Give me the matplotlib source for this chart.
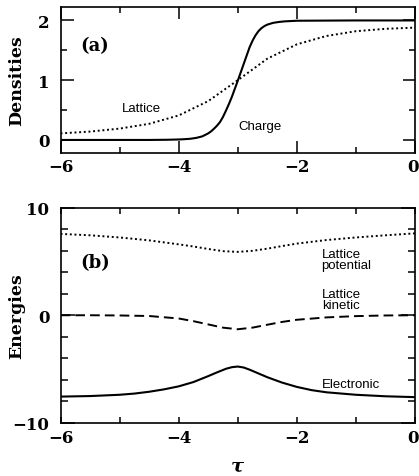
import matplotlib
matplotlib.use("Agg")
import matplotlib.pyplot as plt
from matplotlib.ticker import MultipleLocator, FuncFormatter
from matplotlib.font_manager import FontProperties
from matplotlib.transforms import ScaledTranslation

# ---------------- data ----------------
charge_x = [-6.0, -4.5, -4.2, -4.0, -3.9, -3.8, -3.7, -3.6, -3.5, -3.45, -3.4, -3.35, -3.3,
            -3.25, -3.2, -3.15, -3.1, -3.05, -3.0, -2.95, -2.9, -2.85, -2.8, -2.75, -2.7,
            -2.65, -2.6, -2.55, -2.5, -2.4, -2.3, -2.2, -2.0, -1.0, 0.0]
charge_y = [0.0, 0.0, 0.003, 0.008, 0.013, 0.02, 0.035, 0.06, 0.11, 0.145, 0.19, 0.24, 0.30,
            0.385, 0.49, 0.60, 0.72, 0.855, 0.99, 1.13, 1.27, 1.41, 1.55, 1.66, 1.75,
            1.82, 1.87, 1.905, 1.93, 1.96, 1.975, 1.985, 1.995, 2.0, 2.0]

lattice_x = [-6.0, -5.5, -5.0, -4.5, -4.0, -3.5, -3.0, -2.5, -2.0, -1.5, -1.0, -0.5, 0.0]
lattice_y = [0.11, 0.14, 0.19, 0.27, 0.41, 0.65, 1.0, 1.36, 1.60, 1.74, 1.82, 1.86, 1.88]

energy_x = [-6.0, -5.5, -5.0, -4.5, -4.0, -3.75, -3.5, -3.25, -3.0, -2.75, -2.5, -2.25,
            -2.0, -1.5, -1.0, -0.5, 0.0]
lat_potential = [7.55, 7.42, 7.22, 6.95, 6.58, 6.38, 6.15, 5.95, 5.88, 5.98, 6.18, 6.42,
                 6.65, 6.98, 7.22, 7.42, 7.6]
lat_kinetic = [0.0, 0.0, -0.02, -0.07, -0.3, -0.55, -0.85, -1.15, -1.3, -1.15, -0.88, -0.62,
               -0.42, -0.2, -0.08, -0.02, 0.0]

electronic_x = [-6.0, -5.5, -5.0, -4.75, -4.5, -4.25, -4.0, -3.75, -3.5, -3.35, -3.2, -3.1,
                -3.0, -2.9, -2.8, -2.65, -2.5, -2.25, -2.0, -1.75, -1.5, -1.0, -0.5, 0.0]
electronic = [-7.55, -7.5, -7.38, -7.27, -7.1, -6.88, -6.6, -6.2, -5.65, -5.3, -4.97, -4.82,
              -4.76, -4.85, -5.05, -5.4, -5.75, -6.25, -6.65, -6.95, -7.15, -7.38, -7.52, -7.6]

x_ticks = [-6, -4, -2, 0]
dens_ticks = [0, 1, 2]
energy_ticks = [-10, 0, 10]

# ---------------- styling ----------------
W, H = 419, 477
fig = plt.figure(figsize=(W / 100, H / 100), dpi=100)

tick_font = dict(family="DejaVu Serif", weight="bold", size=12)
label_font = dict(family="DejaVu Serif", weight="bold", size=12.5)
ann_font = dict(family="Liberation Sans", size=9.5)


def minus_fmt(v, pos):
    return f"{v:g}".replace("-", "\u2212")


def style_axes(ax, xmaj_len, xmin_len, ymaj_len, ymin_len):
    for sp in ax.spines.values():
        sp.set_linewidth(1.2)
    ax.tick_params(which="both", direction="in", top=True, right=True, width=1.1)
    ax.tick_params(axis="x", which="major", length=xmaj_len, pad=4)
    ax.tick_params(axis="x", which="minor", length=xmin_len)
    ax.tick_params(axis="y", which="major", length=ymaj_len, pad=8)
    ax.tick_params(axis="y", which="minor", length=ymin_len)
    ax.xaxis.set_major_formatter(FuncFormatter(minus_fmt))
    ax.yaxis.set_major_formatter(FuncFormatter(minus_fmt))
    for lab in ax.get_xticklabels() + ax.get_yticklabels():
        lab.set_fontproperties(FontProperties(**tick_font))
    # nudge the rightmost x tick label so it stays inside the figure
    last = ax.xaxis.get_major_ticks()[-1].label1
    last.set_transform(last.get_transform() + ScaledTranslation(-2.5 / 100, 0, fig.dpi_scale_trans))


# ---------------- panel (a) ----------------
ax1 = fig.add_axes([60.5 / W, 1 - 153.5 / H, (415 - 60.5) / W, (153.5 - 8.3) / H])
ax1.plot(charge_x, charge_y, color="black", lw=1.5, solid_joinstyle="round")
ax1.plot(lattice_x, lattice_y, color="black", lw=1.4, linestyle=(0, (1.0, 1.4)))
ax1.set_xlim(-6, 0)
ax1.set_ylim(-0.21, 2.22)
ax1.set_xticks(x_ticks)
ax1.set_yticks(dens_ticks)
ax1.xaxis.set_minor_locator(MultipleLocator(1))
ax1.yaxis.set_minor_locator(MultipleLocator(0.5))
style_axes(ax1, 8.6, 4.3, 9, 4.5)
ax1.set_ylabel("Densities", **label_font)
ax1.yaxis.set_label_coords(-0.1, 0.5)
ax1.text(-5.67, 1.59, "(a)", family="DejaVu Serif", weight="bold", size=13, va="center", ha="left")
ax1.text(-4.96, 0.49, "Lattice", ha="left", va="baseline", **ann_font)
ax1.text(-2.99, 0.18, "Charge", ha="left", va="baseline", **ann_font)

# ---------------- panel (b) ----------------
ax2 = fig.add_axes([60.5 / W, 1 - 424 / H, (415 - 60.5) / W, (424 - 208.5) / H])
ax2.plot(energy_x, lat_potential, color="black", lw=1.4, linestyle=(0, (1.0, 1.4)))
ax2.plot(energy_x, lat_kinetic, color="black", lw=1.4, linestyle=(0, (5.0, 2.6)))
ax2.plot(electronic_x, electronic, color="black", lw=1.5, solid_joinstyle="round")
ax2.set_xlim(-6, 0)
ax2.set_ylim(-10, 10)
ax2.set_xticks(x_ticks)
ax2.set_yticks(energy_ticks)
ax2.xaxis.set_minor_locator(MultipleLocator(1))
ax2.yaxis.set_minor_locator(MultipleLocator(2))
style_axes(ax2, 4.5, 4.5, 10, 5)
ax2.set_ylabel("Energies", **label_font)
ax2.yaxis.set_label_coords(-0.1, 0.5)
ax2.set_xlabel("\u03c4", family="DejaVu Serif", style="italic", weight="bold", size=14, labelpad=8)
ax2.text(-5.67, 4.95, "(b)", family="DejaVu Serif", weight="bold", size=13, va="center", ha="left")
ax2.text(-1.58, 5.45, "Lattice", ha="left", va="baseline", **ann_font)
ax2.text(-1.58, 4.4, "potential", ha="left", va="baseline", **ann_font)
ax2.text(-1.58, 1.73, "Lattice", ha="left", va="baseline", **ann_font)
ax2.text(-1.58, 0.68, "kinetic", ha="left", va="baseline", **ann_font)
ax2.text(-1.58, -6.68, "Electronic", ha="left", va="baseline", **ann_font)

fig.savefig("out.png", dpi=100)
